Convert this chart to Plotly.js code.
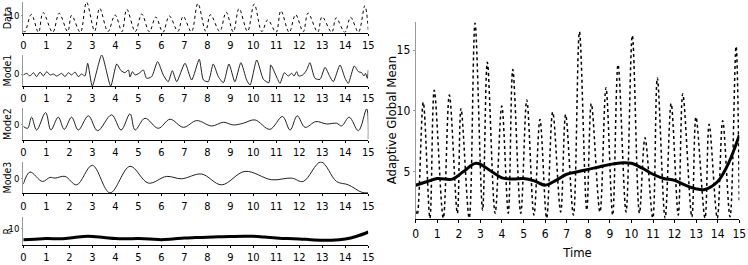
<!DOCTYPE html>
<html>
<head>
<meta charset="utf-8">
<script src="https://cdn.plot.ly/plotly-3.0.1.min.js"></script>
<style>html,body{margin:0;padding:0;background:#fff;}#chart{width:748px;height:265px;}</style>
</head>
<body>
<div id="chart"></div>
<script>
// ---- Data ----
const dataTime = [0, 0.07, 0.35, 0.66, 0.86, 1.28, 1.56, 1.93, 2.10, 2.48, 2.75, 3.10, 3.32, 3.68, 3.99, 4.29, 4.50, 4.87, 5.15, 5.48, 5.76, 6.07, 6.35, 6.72, 6.95, 7.31, 7.59, 7.93, 8.14, 8.54, 8.82, 9.13, 9.38, 9.75, 10.04, 10.37, 10.63, 10.99, 11.20, 11.56, 11.84, 12.17, 12.38, 12.80, 12.99, 13.41, 13.60, 13.98, 14.23, 14.57, 14.85, 15.0];
const dataValues = [1.8, 1.45, 10.7, 1.2, 11.7, 1.2, 11.3, 1.6, 10.2, 1.2, 17.2, 1.85, 14.0, 1.6, 10.4, 1.6, 13.4, 1.6, 10.9, 1.45, 9.3, 1.2, 9.9, 1.7, 9.7, 1.45, 16.5, 1.85, 10.6, 1.7, 11.9, 1.45, 13.8, 1.7, 16.2, 1.6, 7.8, 1.2, 12.7, 1.2, 10.6, 1.45, 11.4, 1.3, 9.5, 1.2, 8.9, 1.2, 9.2, 1.3, 15.3, 2.5];

const mode1Time = [0, 0.15, 0.29, 0.44, 0.58, 0.73, 0.87, 1.02, 1.16, 1.31, 1.45, 1.67, 1.81, 1.96, 2.10, 2.25, 2.39, 2.54, 2.68, 2.80, 3.00, 3.41, 3.80, 4.06, 4.25, 4.42, 4.57, 4.64, 4.74, 4.86, 5.03, 5.22, 5.36, 5.58, 5.84, 6.09, 6.30, 6.48, 6.67, 7.03, 7.32, 7.65, 7.83, 8.04, 8.26, 8.48, 8.70, 8.94, 9.20, 9.46, 9.71, 9.86, 10.15, 10.44, 10.68, 10.76, 11.04, 11.16, 11.35, 11.52, 11.67, 11.77, 11.89, 11.97, 12.15, 12.32, 12.46, 12.68, 12.90, 13.12, 13.33, 13.48, 13.77, 13.99, 14.13, 14.39, 14.57, 14.71, 14.81, 14.88, 14.96, 15.0];
const mode1Values = [-0.3, 0.22, -0.67, 0.44, -0.89, 0.67, -0.67, 0.78, -0.33, 0.0, -0.67, 0.22, -0.89, 0.44, -0.33, 0.67, -0.89, 0.0, -0.67, 3.56, -4.0, 6.33, -4.0, 3.33, 1.11, 0.44, 1.33, -1.0, 0.78, -0.33, 0.22, 1.33, -1.44, -0.89, 4.11, -0.4, -2.56, 1.11, -2.56, 3.56, -2.0, 4.89, -2.0, -2.56, 3.33, -0.89, -2.89, 3.33, -2.56, 3.78, -2.0, -3.67, 4.67, -1.78, -2.89, 3.0, -1.44, -3.11, 0.44, -0.67, 0.22, -0.67, 0.78, -0.67, -0.33, 1.33, 3.78, -1.44, -1.78, 2.22, -0.89, -2.56, 3.0, -1.44, -3.11, 2.67, 0.78, 0.44, -0.67, 0.22, -1.44, 1.33];

const mode2Time = [0, 0.19, 0.36, 0.58, 0.97, 1.20, 1.52, 1.78, 2.10, 2.39, 2.83, 3.23, 3.84, 4.25, 4.64, 4.86, 5.29, 5.87, 6.38, 6.96, 7.54, 8.19, 8.70, 9.13, 9.56, 10.07, 10.72, 11.27, 11.60, 11.91, 12.25, 12.72, 13.19, 13.62, 13.84, 14.17, 14.57, 14.93, 15.0];
const mode2Values = [-0.5, -1.1, 2.56, -1.67, 4.1, -1.67, 2.56, -1.44, 2.56, -1.67, 3.0, -1.9, 3.33, -1.67, 3.67, -1.67, 2.22, -1.1, 1.89, -0.78, 1.44, -0.33, 0.89, 0.0, 0.56, 1.67, -1.44, 2.78, -1.67, 3.0, -0.78, 1.11, 0.33, 0.56, -0.33, 2.56, -1.89, 5.3, -4.7];

const mode3Time = [0, 0.29, 0.83, 1.16, 1.38, 1.81, 2.32, 3.00, 3.77, 4.64, 5.44, 6.23, 6.88, 7.75, 8.62, 9.64, 10.80, 11.67, 12.17, 12.94, 13.62, 14.13, 14.71, 15.0];
const mode3Values = [-1.78, 2.22, -0.89, 0.44, 0.22, 0.78, -2.0, 4.44, -4.67, 4.11, -1.44, 0.78, 0.0, 1.56, -2.0, 2.44, -0.33, 0.22, -0.89, 5.56, -0.89, -2.0, -4.44, -4.67];

const meanTime = [0, 0.5, 1.0, 1.7, 2.2, 2.8, 3.5, 4.0, 4.5, 5.0, 5.5, 6.0, 6.5, 7.0, 7.5, 8.0, 8.5, 9.0, 9.6, 10.0, 10.5, 11.0, 11.5, 12.0, 12.5, 13.0, 13.4, 14.0, 14.5, 15.0];
const meanValues = [3.9, 4.18, 4.45, 4.4, 5.0, 5.7, 5.05, 4.5, 4.4, 4.45, 4.26, 3.9, 4.3, 4.8, 5.0, 5.2, 5.4, 5.6, 5.75, 5.7, 5.3, 4.8, 4.45, 4.3, 3.9, 3.6, 3.55, 4.2, 5.7, 8.0];

const xTicks = [0,1,2,3,4,5,6,7,8,9,10,11,12,13,14,15];
const panelTitles = ['Data', 'Mode1', 'Mode2', 'Mode3', 'R'];

// ---- Styling ----
const FONT = "'Liberation Sans Narrow', 'DejaVu Sans Condensed', 'Roboto Condensed', Lato, sans-serif";
const fnt = {family: FONT, size: 11, color: '#000'};
const fntY = {family: FONT, size: 9.5, color: '#000'};
const fntR = {family: FONT, size: 12, color: '#000'};
const titleFnt = {family: FONT, size: 10.5, color: '#000'};
const titleFntR = {family: FONT, size: 13, color: '#000'};

const traces = [
  {x: dataTime, y: dataValues, xaxis: 'x', yaxis: 'y', mode: 'lines', line: {color: '#000', width: 1, dash: 'dot', shape: 'spline', smoothing: 1}},
  {x: mode1Time, y: mode1Values, xaxis: 'x2', yaxis: 'y2', mode: 'lines', line: {color: '#222', width: 1, shape: 'spline', smoothing: 0.6}},
  {x: mode2Time, y: mode2Values, xaxis: 'x3', yaxis: 'y3', mode: 'lines', line: {color: '#222', width: 1, shape: 'spline', smoothing: 1}},
  {x: mode3Time, y: mode3Values, xaxis: 'x4', yaxis: 'y4', mode: 'lines', line: {color: '#222', width: 1, shape: 'spline', smoothing: 1}},
  {x: meanTime, y: meanValues, xaxis: 'x5', yaxis: 'y5', mode: 'lines', line: {color: '#000', width: 3, shape: 'spline', smoothing: 1}},
  {x: dataTime, y: dataValues, xaxis: 'x6', yaxis: 'y6', mode: 'lines', line: {color: '#000', width: 1.5, dash: 'dot', shape: 'spline', smoothing: 1}},
  {x: meanTime, y: meanValues, xaxis: 'x6', yaxis: 'y6', mode: 'lines', line: {color: '#000', width: 3, shape: 'spline', smoothing: 1}}
];

const H = 265, W = 748;
const leftDom = [23.3 / W, 368.3 / W];
const rightDom = [415.7 / W, 739.3 / W];
function yd(top, bottom) { return [1 - bottom / H, 1 - top / H]; }

function xax(anchor, dom, f) {
  return {domain: dom, anchor: anchor, range: [0, 15], tickvals: xTicks, ticktext: xTicks.map(String),
    showline: true, linecolor: '#000', linewidth: 1, ticks: 'outside', ticklen: 2, tickcolor: '#000',
    showgrid: false, zeroline: false, tickfont: f || fnt, fixedrange: true};
}
function yax(anchor, dom, range, tv, f, tl) {
  return {domain: dom, anchor: anchor, range: range, tickvals: tv, ticktext: tv.map(String),
    showline: true, linecolor: '#999', linewidth: 1, ticks: 'outside', ticklen: tl || 1, tickcolor: '#999',
    showgrid: false, zeroline: false, tickfont: f || fntY};
}

const leftDoms = [yd(2, 32.5), yd(55, 86), yd(108.3, 139.5), yd(161.5, 193.3), yd(216.7, 244.5)];
const annotations = panelTitles.map((t, i) => ({
  text: t, textangle: -90, xref: 'paper', yref: 'paper',
  x: 7 / W, y: (leftDoms[i][0] + leftDoms[i][1]) / 2, xanchor: 'center', yanchor: 'middle',
  showarrow: false, font: titleFnt, borderpad: 0
}));
annotations.push({
  text: 'Adaptive Global Mean', textangle: -90, xref: 'paper', yref: 'paper',
  x: 391.5 / W, y: (yd(22, 219.3)[0] + yd(22, 219.3)[1]) / 2, xanchor: 'center', yanchor: 'middle',
  showarrow: false, font: titleFntR
});

const layout = {
  width: W, height: H, margin: {l: 0, r: 0, t: 0, b: 0}, showlegend: false,
  paper_bgcolor: '#fff', plot_bgcolor: '#fff', font: fnt,
  xaxis: xax('y', leftDom),
  yaxis: yax('x', leftDoms[0], [1.1, 17.3], [10]),
  xaxis2: xax('y2', leftDom),
  yaxis2: yax('x2', leftDoms[1], [-4, 6.33], [0]),
  xaxis3: xax('y3', leftDom),
  yaxis3: yax('x3', leftDoms[2], [-4.8, 5.5], [0]),
  xaxis4: xax('y4', leftDom),
  yaxis4: yax('x4', leftDoms[3], [-4.8, 5.7], [0]),
  xaxis5: xax('y5', leftDom),
  yaxis5: yax('x5', leftDoms[4], [1.3, 16.2], [10]),
  xaxis6: Object.assign(xax('y6', rightDom, fntR), {ticklen: 3, title: {text: 'Time', font: titleFntR, standoff: 8}}),
  yaxis6: yax('x6', yd(22, 219.3), [1.1, 17.3], [5, 10, 15], fntR, 2),
  annotations: annotations
};

Plotly.newPlot('chart', traces, layout, {staticPlot: true, displayModeBar: false});
</script>
</body>
</html>
